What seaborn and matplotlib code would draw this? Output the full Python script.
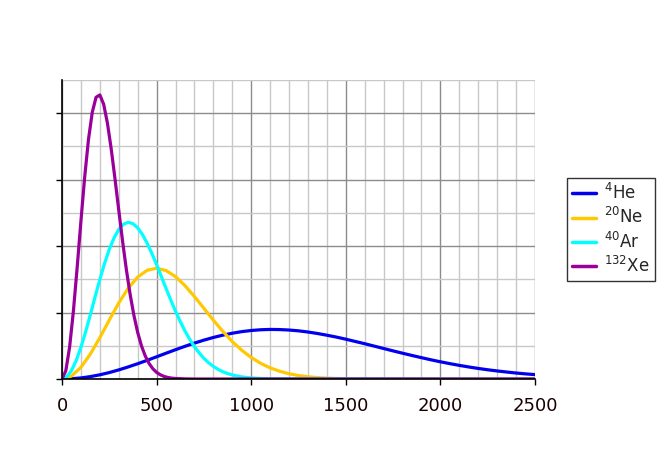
import numpy as np
import pandas as pd
import seaborn as sns
import matplotlib
matplotlib.use("Agg")
import matplotlib.pyplot as plt
from matplotlib.ticker import MultipleLocator, NullFormatter

# speed (m/s) and probability density (units of 1e-3 s/m)
he_v = list(range(0, 2501, 50))
he_f = [0.000, 0.004, 0.016, 0.036, 0.063, 0.097, 0.137, 0.182, 0.230, 0.281,
        0.334, 0.388, 0.441, 0.492, 0.540, 0.585, 0.625, 0.660, 0.689, 0.713,
        0.730, 0.741, 0.746, 0.744, 0.737, 0.725, 0.707, 0.685, 0.659, 0.631,
        0.599, 0.565, 0.531, 0.495, 0.459, 0.423, 0.388, 0.354, 0.321, 0.289,
        0.259, 0.231, 0.205, 0.181, 0.159, 0.139, 0.121, 0.105, 0.090, 0.077,
        0.066]

ne_v = list(range(0, 1501, 50)) + [2500]
ne_f = [0.000, 0.045, 0.176, 0.376, 0.622, 0.888, 1.145, 1.366, 1.534, 1.636,
        1.667, 1.632, 1.541, 1.405, 1.241, 1.064, 0.885, 0.717, 0.564, 0.433,
        0.324, 0.236, 0.168, 0.117, 0.079, 0.052, 0.034, 0.021, 0.013, 0.008,
        0.005, 0.000]

ar_v = list(range(0, 1001, 25)) + [1050, 1100, 2500]
ar_f = [0.000, 0.032, 0.127, 0.278, 0.477, 0.712, 0.970, 1.237, 1.498, 1.740,
        1.952, 2.124, 2.251, 2.329, 2.358, 2.338, 2.276, 2.175, 2.044, 1.890,
        1.721, 1.543, 1.363, 1.188, 1.020, 0.865, 0.723, 0.597, 0.487, 0.392,
        0.311, 0.244, 0.190, 0.145, 0.110, 0.082, 0.061, 0.045, 0.032, 0.023,
        0.016, 0.008, 0.004, 0.000]

xe_v = list(range(0, 601, 20)) + [650, 700, 2500]
xe_f = [0.000, 0.123, 0.475, 1.014, 1.673, 2.376, 3.043, 3.606, 4.015, 4.240,
        4.275, 4.137, 3.853, 3.465, 3.015, 2.541, 2.078, 1.650, 1.275, 0.958,
        0.701, 0.499, 0.347, 0.235, 0.155, 0.100, 0.063, 0.038, 0.023, 0.013,
        0.008, 0.002, 0.000, 0.000]

labels = ["$^{4}$He", "$^{20}$Ne", "$^{40}$Ar", "$^{132}$Xe"]
colors = ["#0000ee", "#ffc800", "#00ffff", "#990099"]

frames = []
for lab, v, f in zip(labels, [he_v, ne_v, ar_v, xe_v], [he_f, ne_f, ar_f, xe_f]):
    frames.append(pd.DataFrame({"v": v, "f": f, "gas": lab}))
df = pd.concat(frames, ignore_index=True)

sns.set_style("white")
plt.rcParams["font.family"] = ["DejaVu Sans"]

fig = plt.figure(figsize=(6.67, 4.63), dpi=100)
ax = fig.add_axes([62/667, 84/463, 473/667, 299/463])

sns.lineplot(data=df, x="v", y="f", hue="gas", palette=dict(zip(labels, colors)),
             hue_order=labels, estimator=None, linewidth=2.3, ax=ax)

ax.set_xlim(0, 2500)
ax.set_ylim(0, 4.5)
ax.xaxis.set_major_locator(MultipleLocator(500))
ax.xaxis.set_minor_locator(MultipleLocator(100))
ax.yaxis.set_major_locator(MultipleLocator(1))
ax.yaxis.set_minor_locator(MultipleLocator(0.5))
ax.yaxis.set_major_formatter(NullFormatter())
ax.set_axisbelow(True)
ax.grid(which="major", color="#8c8c8c", linewidth=1.0)
ax.grid(which="minor", color="#c8c8c8", linewidth=1.0)
ax.tick_params(which="major", direction="out", length=4, width=1, color="black",
               left=True, bottom=True, labelsize=13, labelcolor="#1a0000", pad=9)
ax.tick_params(which="minor", length=0)
ax.set_xlabel("")
ax.set_ylabel("")
for s in ["top", "right"]:
    ax.spines[s].set_visible(False)
for s in ["left", "bottom"]:
    ax.spines[s].set_color("black")
    ax.spines[s].set_linewidth(1.2)

leg = ax.legend(loc="upper left", bbox_to_anchor=(567/667, (463-178)/463),
                bbox_transform=fig.transFigure, fontsize=12, frameon=True,
                fancybox=False, edgecolor="black", handlelength=1.45,
                borderpad=0.3, borderaxespad=0, labelspacing=0.25,
                handletextpad=0.5)
leg.get_frame().set_linewidth(1.0)
for line in leg.get_lines():
    line.set_linewidth(2.5)

fig.savefig("out.png", dpi=100)
